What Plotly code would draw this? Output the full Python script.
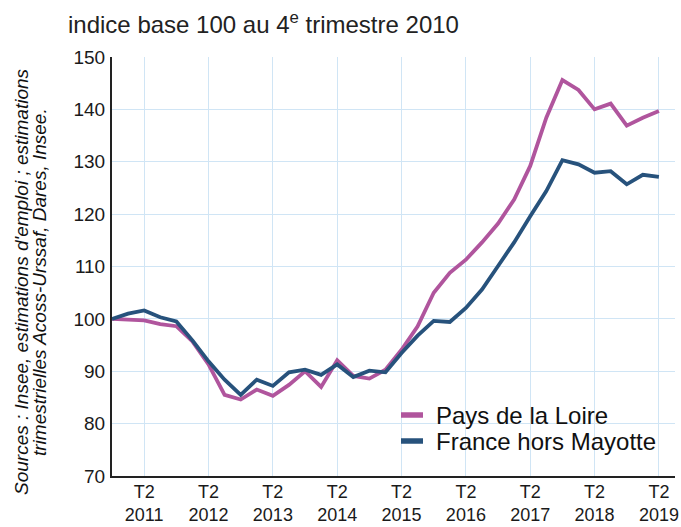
import plotly.graph_objects as go

quarters = ["2010T4"] + [f"{y}T{q}" for y in range(2011, 2020) for q in range(1, 5)][:34]

pays_de_la_loire = [100.0, 99.9, 99.7, 99.0, 98.6, 95.7, 91.3, 85.5, 84.6, 86.5, 85.3, 87.4,
                    90.0, 87.0, 92.1, 89.1, 88.6, 90.3, 94.1, 98.6, 105.0, 108.8, 111.3, 114.6,
                    118.2, 122.8, 129.2, 138.4, 145.6, 143.7, 140.0, 141.1, 136.9, 138.4, 139.7]
france_hors_mayotte = [100.0, 101.0, 101.6, 100.3, 99.5, 95.9, 91.9, 88.4, 85.5, 88.4, 87.2, 89.8,
                       90.3, 89.3, 91.3, 88.9, 90.1, 89.8, 93.5, 96.8, 99.6, 99.4, 102.1, 105.6,
                       110.1, 114.6, 119.6, 124.4, 130.3, 129.5, 127.9, 128.2, 125.7, 127.5, 127.1]

series_names = ["Pays de la Loire", "France hors Mayotte"]
series_colors = ["#b0559d", "#27527c"]

tick_vals = [f"{y}T2" for y in range(2011, 2020)]
tick_text = [f"T2<br>{y}" for y in range(2011, 2020)]
y_ticks = [70, 80, 90, 100, 110, 120, 130, 140, 150]

FONT = "Liberation Sans, Arial, sans-serif"
GRID = "#d0e5f5"

fig = go.Figure()
for name, vals, col in zip(series_names, [pays_de_la_loire, france_hors_mayotte], series_colors):
    fig.add_trace(go.Scatter(x=quarters, y=vals, mode="lines", name=name,
                             line=dict(color=col, width=3.8), showlegend=False))

L, R, T, B = 112, 675, 57, 476
fig.update_layout(
    width=681, height=527,
    margin=dict(l=L, r=681 - R, t=T, b=527 - B),
    paper_bgcolor="white", plot_bgcolor="white",
    font=dict(family=FONT, color="#1a1a1a"),
    xaxis=dict(type="category", categoryorder="array", categoryarray=quarters,
               range=[0, 35], tickmode="array", tickvals=tick_vals, ticktext=tick_text,
               showgrid=True, gridcolor=GRID, gridwidth=1.3, automargin=False,
               showline=True, linecolor="#222", linewidth=2,
               ticks="", ticklabelstandoff=-2, tickfont=dict(size=18, color="#1a1a1a"),
               zeroline=False),
    yaxis=dict(range=[70, 150], tickmode="array", tickvals=y_ticks, automargin=False,
               showgrid=True, gridcolor=GRID, gridwidth=1.3,
               showline=True, linecolor="#222", linewidth=2,
               ticks="", ticklabelstandoff=1, tickfont=dict(size=19, color="#1a1a1a"),
               zeroline=False),
)

def px(X):
    return (X - L) / (R - L)

def py(Y):
    return (B - Y) / (B - T)

fig.add_annotation(xref="paper", yref="paper", x=px(66), y=py(23), xanchor="left", yanchor="middle",
                   text="indice base 100 au 4<sup>e</sup> trimestre 2010", showarrow=False,
                   font=dict(size=24, color="#222"))

for txt, X in [("<i>Sources : Insee, estimations d'emploi ; estimations</i>", 21),
               ("<i>trimestrielles Acoss-Urssaf, Dares, Insee.</i>", 39)]:
    fig.add_annotation(xref="paper", yref="paper", x=px(X), y=py(282), xanchor="center",
                       yanchor="middle", textangle=-90, text=txt, showarrow=False,
                       font=dict(size=19, color="#111"))

# legend drawn as box + swatches + labels
fig.add_shape(type="rect", xref="paper", yref="paper", x0=px(393), x1=px(675), y0=py(458), y1=py(398),
              fillcolor="white", line=dict(width=0), layer="below")
for name, col, Y in zip(series_names, series_colors, [415, 441]):
    fig.add_shape(type="line", xref="paper", yref="paper", x0=px(401), x1=px(423), y0=py(Y), y1=py(Y),
                  line=dict(color=col, width=5.5))
    fig.add_annotation(xref="paper", yref="paper", x=px(434), y=py(Y), xanchor="left", yanchor="middle",
                       text=name, showarrow=False, font=dict(size=24, color="#111"))

fig.write_html("out.html", config={"displayModeBar": False},
               post_script="document.body.style.margin='0';")
